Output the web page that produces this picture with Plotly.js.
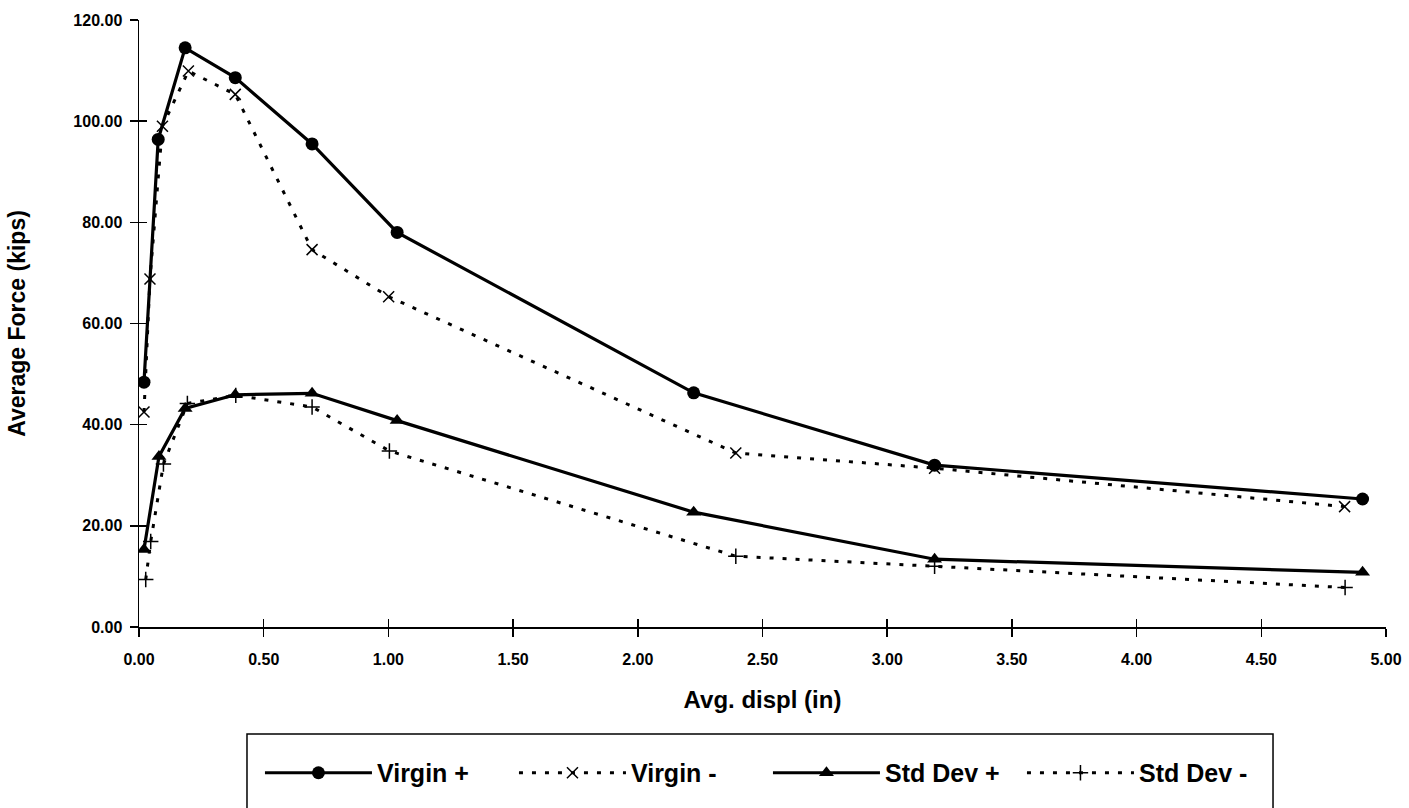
<!DOCTYPE html>
<html>
<head>
<meta charset="utf-8">
<script src="https://cdn.plot.ly/plotly-3.0.1.min.js"></script>
<style>html,body{margin:0;padding:0;background:#fff;}#chart{width:1409px;height:808px;}</style>
</head>
<body>
<div id="chart"></div>
<script>
// Data
const virginPlusX  = [0.02, 0.077, 0.185, 0.386, 0.694, 1.035, 2.224, 3.19, 4.906];
const virginPlusY  = [48.4, 96.4, 114.5, 108.6, 95.5, 78.0, 46.3, 32.0, 25.3];

const virginMinusX = [0.02, 0.044, 0.094, 0.198, 0.386, 0.694, 1.001, 2.393, 3.19, 4.834];
const virginMinusY = [42.5, 68.8, 99.0, 109.9, 105.3, 74.6, 65.3, 34.4, 31.4, 23.8];

const stdPlusX     = [0.02, 0.08, 0.185, 0.386, 0.694, 1.035, 2.224, 3.19, 4.906];
const stdPlusY     = [15.3, 33.7, 43.2, 45.9, 46.2, 40.8, 22.7, 13.4, 10.8];

const stdMinusX    = [0.027, 0.047, 0.098, 0.194, 0.388, 0.694, 1.004, 2.393, 3.19, 4.836];
const stdMinusY    = [9.4, 16.9, 32.2, 44.2, 45.8, 43.5, 34.8, 14.0, 12.0, 7.8];

const seriesNames  = ["Virgin +", "Virgin -", "Std Dev +", "Std Dev -"];
const xTickVals    = [0, 0.5, 1, 1.5, 2, 2.5, 3, 3.5, 4, 4.5, 5];
const yTickVals    = [0, 20, 40, 60, 80, 100, 120];

const FONT = "Liberation Sans, Arial, sans-serif";
const solid = {color: "#000", width: 3.2};
const dotted = {color: "#000", width: 3, dash: "4px,9px"};

const traces = [
  {x: virginPlusX, y: virginPlusY, name: seriesNames[0], mode: "lines+markers",
   line: solid, marker: {symbol: "circle", size: 13, color: "#000"}},
  {x: virginMinusX, y: virginMinusY, name: seriesNames[1], mode: "lines+markers",
   line: dotted, marker: {symbol: "x-thin-open", size: 11, color: "#000", line: {width: 1.5, color: "#000"}}},
  {x: stdPlusX, y: stdPlusY, name: seriesNames[2], mode: "lines+markers",
   line: solid, marker: {symbol: "triangle-up", size: 13, color: "#000"}},
  {x: stdMinusX, y: stdMinusY, name: seriesNames[3], mode: "lines+markers",
   line: dotted, marker: {symbol: "cross-thin-open", size: 11, color: "#000", line: {width: 1.5, color: "#000"}}},
  // invisible helper on the overlay axes so the inner cross-ticks are drawn
  {x: virginPlusX, y: virginPlusY, xaxis: "x2", yaxis: "y2", mode: "markers",
   marker: {opacity: 0}, showlegend: false, hoverinfo: "skip"}
];

const tickFont = {family: FONT, size: 16, color: "#000", weight: 700};

const layout = {
  width: 1409, height: 808,
  margin: {l: 139, r: 23, t: 20, b: 181},
  paper_bgcolor: "#fff", plot_bgcolor: "#fff",
  showlegend: true,
  xaxis: {
    range: [0, 5], tickvals: xTickVals, tickformat: ".2f",
    showgrid: false, zeroline: false,
    showline: true, linecolor: "#000", linewidth: 1.5,
    ticks: "outside", ticklen: 8, tickwidth: 1.5, tickcolor: "#000",
    tickfont: tickFont, ticklabelstandoff: 9,
    title: {text: "Avg. displ (in)", font: {family: FONT, size: 24, color: "#000", weight: 700}, standoff: 24}
  },
  yaxis: {
    range: [0, 120], tickvals: yTickVals, tickformat: ".2f",
    showgrid: false, zeroline: false,
    showline: true, linecolor: "#000", linewidth: 1.5,
    ticks: "outside", ticklen: 8, tickwidth: 1.5, tickcolor: "#000",
    tickfont: tickFont, ticklabelstandoff: 4,
    title: {text: "Average Force (kips)", font: {family: FONT, size: 23, color: "#000", weight: 700}, standoff: 41}
  },
  xaxis2: {
    overlaying: "x", range: [0, 5], tickvals: xTickVals, showticklabels: false,
    showgrid: false, zeroline: false, showline: false,
    ticks: "inside", ticklen: 8, tickwidth: 1.5, tickcolor: "#000", side: "bottom"
  },
  yaxis2: {
    overlaying: "y", range: [0, 120], tickvals: yTickVals, showticklabels: false,
    showgrid: false, zeroline: false, showline: false,
    ticks: "inside", ticklen: 8, tickwidth: 1.5, tickcolor: "#000", side: "left"
  },
  legend: {
    orientation: "h",
    x: 0.097, xanchor: "left",
    y: -0.2405, yanchor: "middle",
    bgcolor: "rgba(0,0,0,0)", borderwidth: 0,
    itemwidth: 107,
    entrywidth: 132, entrywidthmode: "pixels",
    font: {family: FONT, size: 25, color: "#000", weight: 700},
    itemclick: false, itemdoubleclick: false
  },
  shapes: [{
    type: "rect", xref: "paper", yref: "paper",
    x0: 0.0866, x1: 0.9094, y0: -0.1763, y1: -0.33,
    line: {color: "#000", width: 1.5}, fillcolor: "rgba(0,0,0,0)", layer: "below"
  }]
};

Plotly.newPlot("chart", traces, layout, {displayModeBar: false, staticPlot: true});
</script>
</body>
</html>
